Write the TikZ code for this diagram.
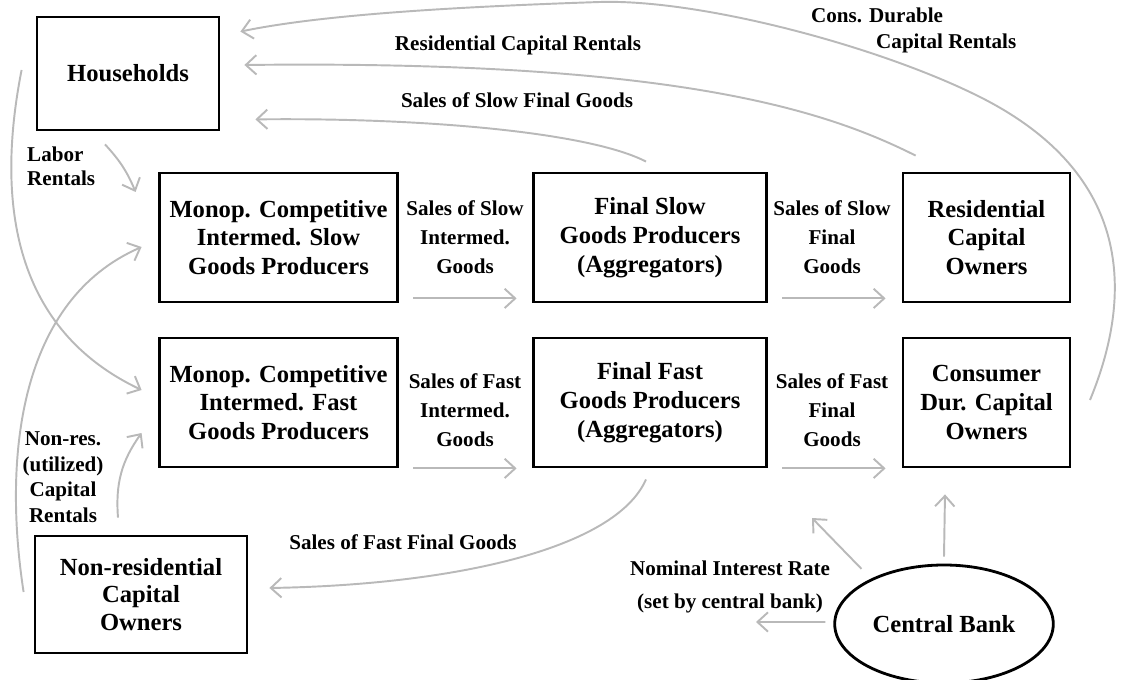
\documentclass[tikz,border=0pt]{standalone}
\usepackage{fontspec}
\setmainfont{Liberation Serif}
\usepackage{tikz}
\usetikzlibrary{arrows.meta,shapes.geometric}

\tikzset{
  box/.style={draw, line width=1.6pt, minimum height=2.58cm, align=center,
    font=\fontsize{14}{16.4}\selectfont\bfseries},
  lbl/.style={align=center, font=\fontsize{12}{16.4}\selectfont\bfseries},
  flow/.style={draw=gray!55, line width=1.1pt, -{Straight Barb[length=6pt,width=11pt]}},
}

\begin{document}
\begin{tikzpicture}
        \useasboundingbox (0,0) rectangle (22.48,13.6);

        % agents
        \node[box, minimum width=3.64cm, minimum height=2.26cm] (hh) at (2.56,12.13) {Households};
        \node[box, minimum width=4.76cm] (ms) at (5.57,8.85) {Monop. Competitive\\Intermed. Slow\\Goods Producers};
        \node[box, minimum width=4.66cm] (fs) at (13.0,8.85) {Final Slow\\Goods Producers\\(Aggregators)};
        \node[box, minimum width=3.34cm] (rc) at (19.73,8.85) {Residential\\Capital\\Owners};
        \node[box, minimum width=4.76cm] (mf) at (5.57,5.55) {Monop. Competitive\\Intermed. Fast\\Goods Producers};
        \node[box, minimum width=4.66cm] (ff) at (13.0,5.55) {Final Fast\\Goods Producers\\(Aggregators)};
        \node[box, minimum width=3.34cm] (cd) at (19.73,5.55) {Consumer\\Dur. Capital\\Owners};
        \node[box, minimum width=4.24cm, minimum height=2.34cm, font=\fontsize{14}{15.8}\selectfont\bfseries] (nr) at (2.82,1.71) {Non-residential\\Capital\\Owners};
        \node[box, ellipse, minimum width=4.36cm, minimum height=2.36cm] (cb) at (18.88,1.12) {Central Bank};

        % labels
        \node[lbl] (lrcr) at (10.36,12.7) {Residential Capital Rentals};
        \node[lbl] (lsfg) at (10.34,11.6) {Sales of Slow Final Goods};
        \node[lbl, align=left, anchor=north west, font=\fontsize{12}{14.7}\selectfont\bfseries] (lcdr) at (16.1,13.56) {Cons. Durable\\\hspace*{37pt}Capital Rentals};
        \node[lbl, align=left, anchor=west, font=\fontsize{12}{13.5}\selectfont\bfseries] (llab) at (0.42,10.28) {Labor\\Rentals};
        \node[lbl] (lssi) at (9.3,8.86) {Sales of Slow\\Intermed.\\Goods};
        \node[lbl] (lssf) at (16.64,8.86) {Sales of Slow\\Final\\Goods};
        \node[lbl] (lsfi) at (9.3,5.4) {Sales of Fast\\Intermed.\\Goods};
        \node[lbl] (lsff) at (16.64,5.4) {Sales of Fast\\Final\\Goods};
        \node[lbl, font=\fontsize{12}{14.5}\selectfont\bfseries] (lnrc) at (1.26,4.06) {Non-res.\\(utilized)\\Capital\\Rentals};
        \node[lbl] (lfff) at (8.06,2.76) {Sales of Fast Final Goods};
        \node[lbl, font=\fontsize{12}{18.7}\selectfont\bfseries] (lnir) at (14.6,1.86) {Nominal Interest Rate\\(set by central bank)};

        \coordinate (cdout) at (21.8,5.6);
        \coordinate (ir1) at (16.24,3.24);
        \coordinate (ir2) at (15.12,1.16);

        % flows to households
        \draw[flow] (cdout) .. controls (22.75,7.9) and (22.5,10.2) .. (19.6,11.66)
                    .. controls (17.57,12.68) and (14,13.62) .. (12,13.56)
                    .. controls (9,13.46) and (6.4,13.3) .. ([xshift=0.4cm,yshift=-0.32cm]hh.north east);
        \draw[flow] ([xshift=0.28cm,yshift=0.32cm]rc.north west) .. controls (16.5,11.4) and (13.5,12.4) .. ([xshift=0.48cm,yshift=0.17cm]hh.east);
        \draw[flow] ([xshift=-0.08cm,yshift=0.2cm]fs.north) .. controls (11.8,10.95) and (8.5,11.25) .. ([xshift=0.7cm,yshift=0.24cm]hh.south east);

        % labor and capital rentals
        \draw[flow] ([xshift=-0.46cm,yshift=-0.26cm]hh.south) to[bend left=10] ([xshift=-0.45cm,yshift=0.91cm]ms.west);
        \draw[flow] ([xshift=-0.28cm,yshift=0.07cm]hh.west) .. controls (-0.1,9.5) and (0.3,7.0) .. ([xshift=-0.33cm,yshift=0.25cm]mf.west);
        \draw[flow] ([xshift=-0.2cm,yshift=0.05cm]nr.west) .. controls (0.05,4.5) and (0.4,7.6) .. ([xshift=-0.33cm,yshift=-0.19cm]ms.west);
        \draw[flow] ([xshift=-0.46cm,yshift=0.34cm]nr.north) to[bend left=20] ([xshift=-0.33cm,yshift=-0.61cm]mf.west);

        % goods flows
        \draw[flow] ([xshift=0.29cm,yshift=0.1cm]ms.south east) -- ([xshift=-0.31cm,yshift=0.1cm]fs.south west);
        \draw[flow] ([xshift=0.29cm,yshift=0.1cm]fs.south east) -- ([xshift=-0.32cm,yshift=0.1cm]rc.south west);
        \draw[flow] ([xshift=0.29cm]mf.south east) -- ([xshift=-0.31cm]ff.south west);
        \draw[flow] ([xshift=0.29cm]ff.south east) -- ([xshift=-0.32cm]cd.south west);
        \draw[flow] ([xshift=-0.08cm,yshift=-0.22cm]ff.south) .. controls (12.3,2.6) and (9,1.9) .. ([xshift=0.42cm,yshift=0.13cm]nr.east);

        % central bank
        \draw[flow] ([yshift=0.14cm]cb.north) -- ([xshift=-0.83cm,yshift=-0.52cm]cd.south);
        \draw[flow] ([xshift=-0.29cm,yshift=0.15cm]cb.145) -- (ir1);
        \draw[flow] ([xshift=-0.16cm,yshift=0.04cm]cb.west) -- (ir2);

\end{tikzpicture}
\end{document}
